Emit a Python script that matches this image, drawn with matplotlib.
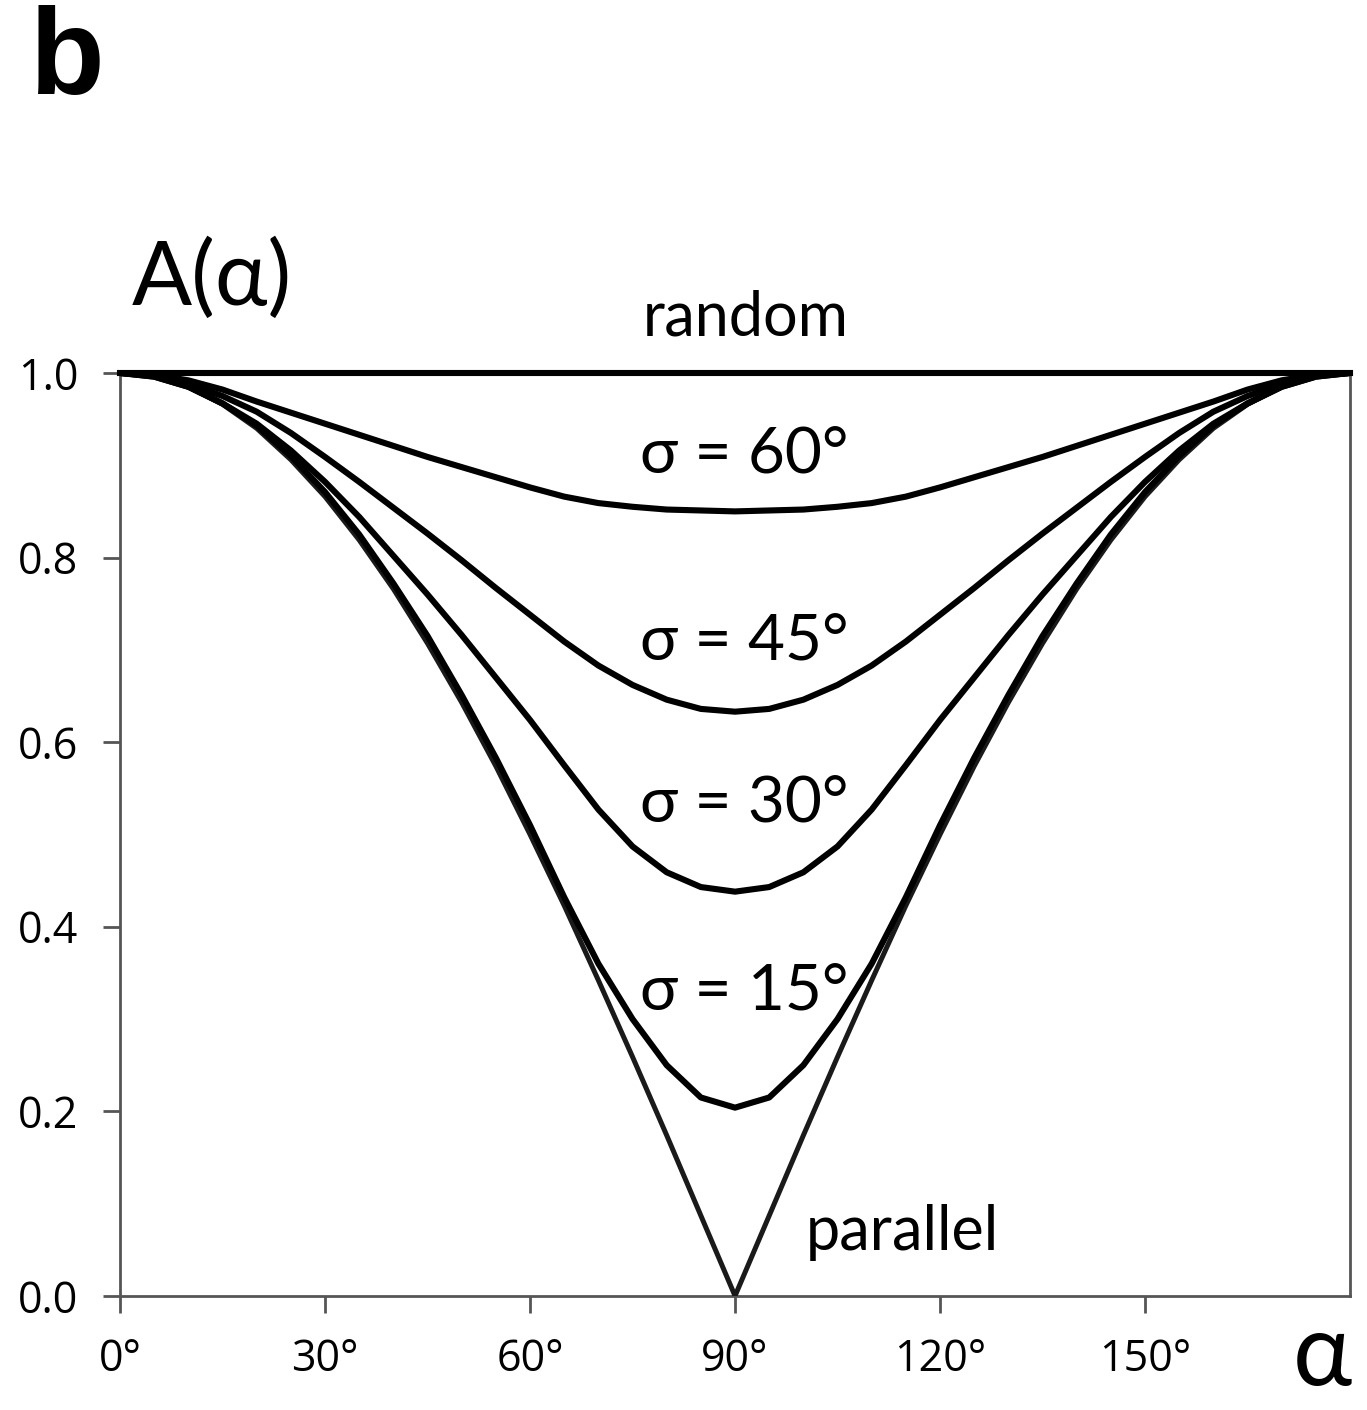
import numpy as np
import matplotlib
matplotlib.use("Agg")
import matplotlib.pyplot as plt

# angle alpha in degrees, 5 degree steps
alpha = [0, 5, 10, 15, 20, 25, 30, 35, 40, 45, 50, 55, 60, 65, 70, 75, 80, 85, 90,
         95, 100, 105, 110, 115, 120, 125, 130, 135, 140, 145, 150, 155, 160, 165, 170, 175, 180]

random_A = [1.0] * 37

sigma60 = [1.000, 0.998, 0.992, 0.982, 0.969, 0.957, 0.945, 0.933, 0.921, 0.909, 0.898, 0.887, 0.876,
           0.866, 0.859, 0.855, 0.852, 0.851, 0.850, 0.851, 0.852, 0.855, 0.859, 0.866, 0.876, 0.887,
           0.898, 0.909, 0.921, 0.933, 0.945, 0.957, 0.969, 0.982, 0.992, 0.998, 1.000]

sigma45 = [1.000, 0.997, 0.988, 0.975, 0.958, 0.935, 0.909, 0.882, 0.854, 0.826, 0.797, 0.767, 0.738,
           0.709, 0.683, 0.662, 0.646, 0.636, 0.633, 0.636, 0.646, 0.662, 0.683, 0.709, 0.738, 0.767,
           0.797, 0.826, 0.854, 0.882, 0.909, 0.935, 0.958, 0.975, 0.988, 0.997, 1.000]

sigma30 = [1.000, 0.996, 0.985, 0.967, 0.945, 0.916, 0.882, 0.844, 0.802, 0.760, 0.716, 0.670, 0.624,
           0.575, 0.527, 0.487, 0.459, 0.443, 0.438, 0.443, 0.459, 0.487, 0.527, 0.575, 0.624, 0.670,
           0.716, 0.760, 0.802, 0.844, 0.882, 0.916, 0.945, 0.967, 0.985, 0.996, 1.000]

sigma15 = [1.000, 0.996, 0.985, 0.967, 0.943, 0.910, 0.871, 0.825, 0.772, 0.715, 0.651, 0.583, 0.510,
           0.432, 0.360, 0.300, 0.250, 0.215, 0.204, 0.215, 0.250, 0.300, 0.360, 0.432, 0.510, 0.583,
           0.651, 0.715, 0.772, 0.825, 0.871, 0.910, 0.943, 0.967, 0.985, 0.996, 1.000]

parallel = [1.000, 0.996, 0.985, 0.966, 0.940, 0.906, 0.866, 0.819, 0.766, 0.707, 0.643, 0.574, 0.500,
            0.423, 0.342, 0.259, 0.174, 0.087, 0.000, 0.087, 0.174, 0.259, 0.342, 0.423, 0.500, 0.574,
            0.643, 0.707, 0.766, 0.819, 0.866, 0.906, 0.940, 0.966, 0.985, 0.996, 1.000]

x_ticks = [0, 30, 60, 90, 120, 150]
x_ticklabels = ["0°", "30°", "60°", "90°", "120°", "150°"]
y_ticks = [0.0, 0.2, 0.4, 0.6, 0.8, 1.0]
y_ticklabels = ["0.0", "0.2", "0.4", "0.6", "0.8", "1.0"]

label_font = ["Lato", "DejaVu Sans"]
tick_font = ["Open Sans", "DejaVu Sans"]

fig = plt.figure(figsize=(13.67, 14.10), dpi=100)
ax = fig.add_axes([0.0878, 0.0809, 0.8998, 0.6546])

ax.plot(alpha, parallel, color="#1a1a1a", lw=3.6, zorder=3)
ax.plot(alpha, sigma15, color="black", lw=4.4, zorder=4)
ax.plot(alpha, sigma30, color="black", lw=4.4, zorder=4)
ax.plot(alpha, sigma45, color="black", lw=4.4, zorder=4)
ax.plot(alpha, sigma60, color="black", lw=4.4, zorder=4)
ax.plot(alpha, random_A, color="black", lw=4.4, zorder=5, clip_on=False)

ax.set_xlim(0, 180)
ax.set_ylim(0, 1.0)

for side in ["left", "bottom", "right"]:
    ax.spines[side].set_color("#555555")
    ax.spines[side].set_linewidth(2)
ax.spines["top"].set_visible(False)

ax.set_xticks(x_ticks)
ax.set_xticklabels(x_ticklabels, fontfamily=tick_font, fontsize=31)
ax.set_yticks(y_ticks)
ax.set_yticklabels(y_ticklabels, fontfamily=tick_font, fontsize=31)
ax.tick_params(axis="both", direction="out", length=12, width=2, color="#555555")
ax.tick_params(axis="x", pad=18)
ax.tick_params(axis="y", pad=18)

# curve labels
ax.text(91.5, 1.041, "random", ha="center", va="baseline", fontsize=44,
        family=label_font, clip_on=False)
ax.text(91.3, 0.892, "σ = 60°", ha="center", va="baseline", fontsize=46, family=label_font)
ax.text(91.3, 0.689, "σ = 45°", ha="center", va="baseline", fontsize=46, family=label_font)
ax.text(91.3, 0.514, "σ = 30°", ha="center", va="baseline", fontsize=46, family=label_font)
ax.text(91.3, 0.310, "σ = 15°", ha="center", va="baseline", fontsize=46, family=label_font)
ax.text(114.5, 0.050, "parallel", ha="center", va="baseline", fontsize=44, family=label_font)

fig.text(0.155, 0.7837, "A(α)", ha="center", va="baseline", fontsize=64, family=label_font)
fig.text(0.967, 0.0177, "α", ha="center", va="baseline", fontsize=72, family=label_font)
fig.text(0.022, 0.933, "b", ha="left", va="baseline", fontsize=88, fontweight="bold",
         family=["Liberation Sans", "DejaVu Sans"])

plt.savefig("out.png", dpi=100)
